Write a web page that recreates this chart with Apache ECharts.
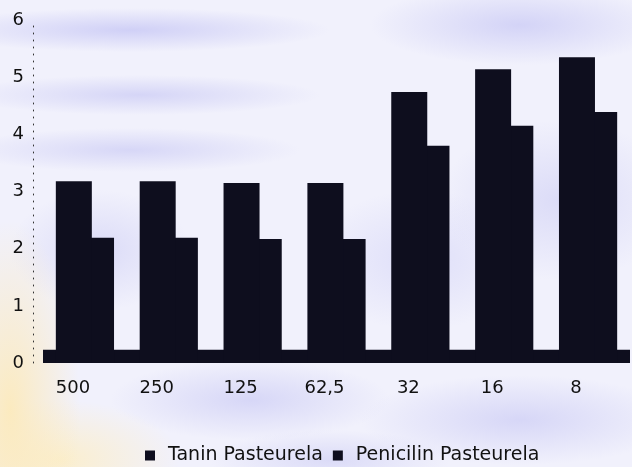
<!DOCTYPE html>
<html>
<head>
<meta charset="utf-8">
<script src="https://cdn.jsdelivr.net/npm/echarts@6/dist/echarts.min.js"></script>
<style>
  html, body { margin: 0; padding: 0; }
  body {
    width: 632px; height: 467px; overflow: hidden;
    background-color: #f1f1fc;
    background-image:
      radial-gradient(ellipse 70px 190px at 10px 410px, rgba(252,234,188,0.95), rgba(252,234,188,0) 100%),
      radial-gradient(ellipse 120px 60px at 60px 460px, rgba(252,238,200,0.9), rgba(252,238,200,0) 100%),
      radial-gradient(ellipse 200px 22px at 130px 30px, rgba(206,206,246,0.95), rgba(206,206,246,0) 100%),
      radial-gradient(ellipse 180px 20px at 140px 95px, rgba(210,210,246,0.9), rgba(210,210,246,0) 100%),
      radial-gradient(ellipse 170px 22px at 130px 150px, rgba(210,210,246,0.85), rgba(210,210,246,0) 100%),
      radial-gradient(ellipse 150px 40px at 520px 25px, rgba(208,208,246,0.9), rgba(208,208,246,0) 100%),
      radial-gradient(ellipse 120px 80px at 560px 200px, rgba(212,212,246,0.75), rgba(212,212,246,0) 100%),
      radial-gradient(ellipse 110px 70px at 420px 260px, rgba(216,216,248,0.75), rgba(216,216,248,0) 100%),
      radial-gradient(ellipse 140px 40px at 250px 400px, rgba(210,210,246,0.85), rgba(210,210,246,0) 100%),
      radial-gradient(ellipse 160px 45px at 520px 420px, rgba(210,210,246,0.85), rgba(210,210,246,0) 100%),
      radial-gradient(ellipse 120px 30px at 330px 460px, rgba(212,212,246,0.75), rgba(212,212,246,0) 100%),
      radial-gradient(ellipse 90px 60px at 100px 250px, rgba(212,212,246,0.75), rgba(212,212,246,0) 100%);
  }
  #chart { width: 632px; height: 467px; }
</style>
</head>
<body>
<div id="chart"></div>
<script>
// Concentration categories along the x axis
const concentrations = ['500', '250', '125', '62,5', '32', '16', '8'];
// Series values
const taninPasteurela = [3.18, 3.18, 3.15, 3.15, 4.74, 5.14, 5.35];
const penicilinPasteurela = [2.19, 2.19, 2.17, 2.17, 3.80, 4.15, 4.39];
// Series names
const seriesNames = ['Tanin Pasteurela', 'Penicilin Pasteurela'];

const barColor = '#0e0e1e';
const textColor = '#111';
const font = 'DejaVu Sans';

const chart = echarts.init(document.getElementById('chart'), null, { renderer: 'canvas' });

chart.setOption({
  animation: false,
  backgroundColor: 'transparent',
  grid: { left: 43, right: 2, top: 20, bottom: 104 },
  legend: {
    data: seriesNames,
    left: 140,
    top: 441,
    icon: 'rect',
    itemWidth: 10,
    itemHeight: 10,
    itemGap: 10,
    textStyle: { fontFamily: font, fontSize: 19, color: textColor, padding: [0, 0, 0, 8] }
  },
  xAxis: {
    type: 'category',
    data: concentrations,
    axisLine: { show: false },
    axisTick: { show: false },
    axisLabel: {
      fontFamily: font, fontSize: 18, color: textColor,
      margin: 16, padding: [0, 24, 0, 0]
    }
  },
  yAxis: {
    type: 'value',
    min: 0, max: 6, interval: 1,
    offset: 10,
    axisLine: { show: true, lineStyle: { color: '#333', width: 1, type: [1, 6] } },
    axisTick: { show: false },
    splitLine: { show: false },
    axisLabel: { fontFamily: font, fontSize: 18, color: textColor, margin: 9 }
  },
  series: [
    {
      name: seriesNames[0],
      type: 'bar',
      data: taninPasteurela,
      barWidth: 36,
      barGap: '-5%',
      z: 3,
      itemStyle: { color: barColor },
      markArea: {
        silent: true,
        itemStyle: { color: barColor },
        data: [[{ yAxis: 0 }, { yAxis: 0.23 }]]
      }
    },
    {
      name: seriesNames[1],
      type: 'bar',
      data: penicilinPasteurela,
      barWidth: 24,
      barGap: '-5%',
      z: 2,
      itemStyle: { color: barColor }
    }
  ]
});
</script>
</body>
</html>
